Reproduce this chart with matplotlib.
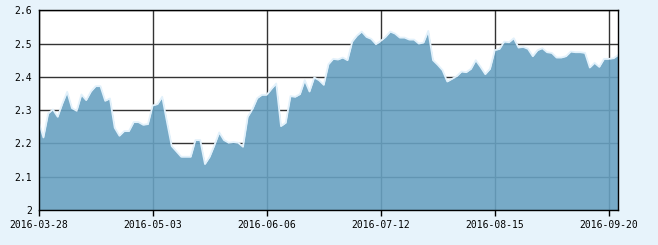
import numpy as np
import matplotlib
matplotlib.use('Agg')
import matplotlib.pyplot as plt

# daily values (trading days)
values = [2.265, 2.218, 2.290, 2.302, 2.280, 2.320, 2.355, 2.306, 2.298, 2.347,
          2.330, 2.356, 2.372, 2.372, 2.328, 2.335, 2.247, 2.223, 2.237, 2.237,
          2.264, 2.264, 2.256, 2.258, 2.314, 2.318, 2.340, 2.265, 2.192, 2.176,
          2.160, 2.160, 2.160, 2.210, 2.210, 2.138, 2.160, 2.195, 2.233, 2.210,
          2.202, 2.204, 2.202, 2.190, 2.280, 2.303, 2.336, 2.346, 2.346, 2.364,
          2.380, 2.252, 2.262, 2.342, 2.340, 2.348, 2.390, 2.356, 2.398, 2.390,
          2.376, 2.438, 2.454, 2.452, 2.458, 2.450, 2.506, 2.524, 2.536, 2.520,
          2.514, 2.498, 2.508, 2.520, 2.536, 2.530, 2.518, 2.518, 2.512, 2.512,
          2.500, 2.503, 2.538, 2.450, 2.436, 2.420, 2.386, 2.394, 2.402, 2.416,
          2.414, 2.424, 2.450, 2.430, 2.408, 2.424, 2.480, 2.484, 2.506, 2.504,
          2.516, 2.488, 2.490, 2.484, 2.462, 2.480, 2.486, 2.474, 2.472, 2.458,
          2.458, 2.462, 2.476, 2.474, 2.474, 2.472, 2.428, 2.442, 2.430, 2.454,
          2.454, 2.456, 2.466]

tick_labels = ['2016-03-28', '2016-05-03', '2016-06-06',
               '2016-07-12', '2016-08-15', '2016-09-20']
tick_step = 24   # one label every 24 trading days
y_ticks = [2.0, 2.1, 2.2, 2.3, 2.4, 2.5, 2.6]
y_labels = ['2', '2.1', '2.2', '2.3', '2.4', '2.5', '2.6']

x = np.arange(len(values))

fig = plt.figure(figsize=(6.58, 2.45), dpi=100, facecolor='#e7f3fb')
ax = fig.add_axes([0.0588, 0.1429, 0.8809, 0.8151])
ax.set_facecolor('white')

ax.grid(True, color='#333333', linewidth=1)
ax.set_axisbelow(True)

ax.fill_between(x, 2.0, values, color='#68a1c1', alpha=0.9, linewidth=0, zorder=2)
ax.plot(x, values, color='#e2f1fb', linewidth=1.3, zorder=3)

ax.set_xlim(0, len(values) - 1)
ax.set_ylim(2.0, 2.6)
ax.set_xticks(x[::tick_step][:len(tick_labels)])
ax.set_xticklabels(tick_labels)
ax.set_yticks(y_ticks)
ax.set_yticklabels(y_labels)

for s in ax.spines.values():
    s.set_color('black')
    s.set_linewidth(1)
    s.set_zorder(4)

ax.tick_params(axis='x', length=4, width=1, color='black', pad=3,
               labelsize=7, labelfontfamily='DejaVu Sans Mono')
ax.tick_params(axis='y', length=0, pad=5,
               labelsize=7, labelfontfamily='DejaVu Sans Mono')

plt.savefig('out.png', dpi=100, facecolor=fig.get_facecolor())
